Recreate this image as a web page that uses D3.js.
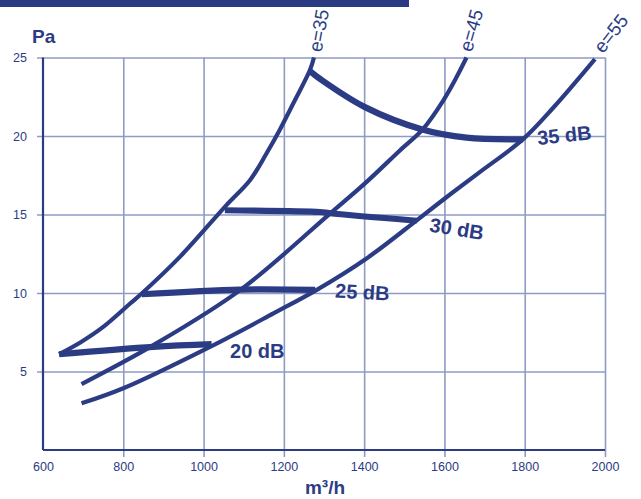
<!DOCTYPE html>
<html>
<head>
<meta charset="utf-8">
<script src="https://cdn.jsdelivr.net/npm/d3@7"></script>
<style>
  html, body { margin: 0; padding: 0; background: #fff; }
  svg { display: block; font-family: "Liberation Sans", Arial, sans-serif; }
</style>
</head>
<body>
<svg id="chart" width="641" height="499"></svg>
<script>
// ---- data (airflow m³/h, pressure Pa) ----
const xTicks = [600, 800, 1000, 1200, 1400, 1600, 1800, 2000];
const yTicks = [5, 10, 15, 20, 25];

// throttle curves (e = opening)
const curveE35 = [[640, 6.1], [696, 6.9], [750, 7.84], [817, 9.33], [846, 9.97], [941, 12.3], [1057, 15.6], [1116, 17.2], [1157, 18.9], [1190, 20.4], [1223, 22.05], [1265, 24.2], [1275, 25.0]];
const curveE45 = [[696, 4.2], [875, 6.68], [1091, 10.18], [1315, 15.06], [1402, 16.98], [1489, 19.08], [1547, 20.46], [1597, 22.26], [1630, 23.74], [1655, 25.0]];
const curveE55 = [[696, 2.97], [800, 3.93], [1016, 6.57], [1174, 8.7], [1282, 10.2], [1406, 12.2], [1531, 14.63], [1605, 16.1], [1688, 17.7], [1796, 19.8], [1871, 21.8], [1975, 24.9]];

// iso-noise lines
const noise20 = [[640, 6.1], [875, 6.57], [1020, 6.74]];
const noise25 = [[846, 9.92], [1091, 10.22], [1278, 10.2]];
const noise30 = [[1053, 15.27], [1290, 15.16], [1315, 15.08], [1531, 14.6]];
const noise35 = [[1265, 24.13], [1290, 23.64], [1402, 21.84], [1547, 20.4], [1655, 19.9], [1796, 19.78]];

const eLabels = ["e=35", "e=45", "e=55"];
const dbLabels = ["20 dB", "25 dB", "30 dB", "35 dB"];

// ---- drawing ----
const navy = "#2b3c85";
const gridCol = "#8f9bc4";
const svg = d3.select("#chart");

const x = d3.scaleLinear().domain([600, 2000]).range([43, 605]);
const y = d3.scaleLinear().domain([0, 25]).range([450, 57.5]);

// header bar
svg.append("rect").attr("x", 0).attr("y", 0).attr("width", 409).attr("height", 7).attr("fill", "#2a3b84");

// vertical grid + x labels
const gx = svg.append("g").attr("transform", "translate(0,457)")
  .call(d3.axisBottom(x).tickValues(xTicks).tickSize(-(457 - y(25))).tickPadding(5.5).tickFormat(d3.format("d")));
gx.select(".domain").remove();
gx.selectAll(".tick line").attr("stroke", gridCol).attr("stroke-width", 1.6)
  .filter(d => d === 600).remove();
gx.selectAll(".tick text").attr("fill", navy).attr("font-size", 12.5).attr("font-family", "Liberation Sans, Arial, sans-serif");

// horizontal grid + y labels
const gy = svg.append("g").attr("transform", "translate(37,0)")
  .call(d3.axisLeft(y).tickValues(yTicks).tickSize(6).tickPadding(4));
gy.select(".domain").remove();
gy.selectAll(".tick line").attr("stroke", gridCol).attr("stroke-width", 1.6).attr("x1", 0).attr("x2", x(2000) - 37);
gy.selectAll(".tick text").attr("fill", navy).attr("font-size", 12.5).attr("font-family", "Liberation Sans, Arial, sans-serif");

// main axes
svg.append("line").attr("x1", x(600)).attr("x2", x(600)).attr("y1", y(25)).attr("y2", y(0))
  .attr("stroke", navy).attr("stroke-width", 2.2);
svg.append("line").attr("x1", x(600)).attr("x2", x(2000)).attr("y1", y(0)).attr("y2", y(0))
  .attr("stroke", navy).attr("stroke-width", 2.2);

const line = d3.line().x(d => x(d[0])).y(d => y(d[1])).curve(d3.curveCatmullRom.alpha(0.5));

[curveE35, curveE45, curveE55].forEach(c => {
  svg.append("path").attr("d", line(c)).attr("fill", "none")
    .attr("stroke", navy).attr("stroke-width", 4.2).attr("stroke-linecap", "butt").attr("stroke-linejoin", "round");
});
[noise20, noise25, noise30, noise35].forEach(c => {
  svg.append("path").attr("d", line(c)).attr("fill", "none")
    .attr("stroke", navy).attr("stroke-width", 6.2).attr("stroke-linecap", "butt").attr("stroke-linejoin", "round");
});

// e labels (rotated along curve tops), anchored at baseline start
const eAnchors = [[1294, 25.3, -80], [1668, 25.3, -74], [1995, 25.2, -52]];
eAnchors.forEach((a, i) => {
  svg.append("text").attr("transform", `translate(${x(a[0])},${y(a[1])}) rotate(${a[2]})`)
    .attr("fill", navy).attr("font-size", 19).text(eLabels[i]);
});

// dB labels
const dbAnchors = [[1066, 5.89, 0], [1327, 9.71, 3], [1561, 13.92, 9], [1833, 19.43, -6]];
dbAnchors.forEach((a, i) => {
  svg.append("text").attr("transform", `translate(${x(a[0])},${y(a[1])}) rotate(${a[2]})`)
    .attr("fill", navy).attr("font-size", 20).attr("font-weight", "bold").text(dbLabels[i]);
});

// axis titles
svg.append("text").attr("x", 32).attr("y", 43).attr("fill", navy)
  .attr("font-size", 19).attr("font-weight", "bold").text("Pa");
svg.append("text").attr("x", 325).attr("y", 494).attr("text-anchor", "middle").attr("fill", navy)
  .attr("font-size", 19).attr("font-weight", "bold").text("m³/h");
</script>
</body>
</html>
